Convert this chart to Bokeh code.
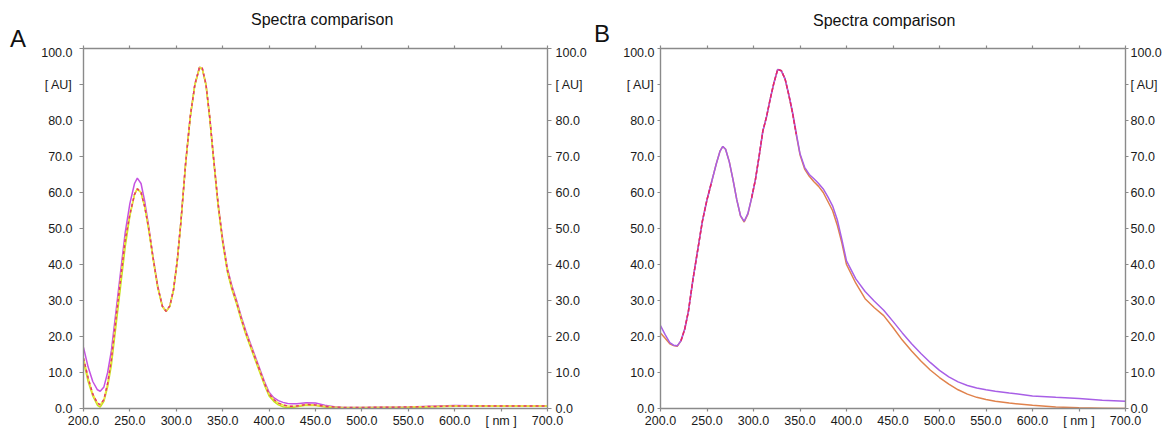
from bokeh.plotting import figure
from bokeh.models import LinearAxis, FixedTicker, Range1d, PrintfTickFormatter, Div
from bokeh.layouts import row, column
from bokeh.embed import file_html
from bokeh.resources import INLINE

# ---------------- data ----------------
x_ticks = [200, 250, 300, 350, 400, 450, 500, 550, 600, 650, 700]
y_ticks = [0, 10, 20, 30, 40, 50, 60, 70, 80, 90, 100]
x_label_overrides = {650: "[ nm ]"}
y_label_overrides = {90: "[ AU]"}
titles = ["Spectra comparison", "Spectra comparison"]
panel_letters = ["A", "B"]

# Panel A
wl_A = [200, 205, 210, 215, 218, 222, 226, 230, 235, 240, 245, 250, 255, 258, 262, 266,
        270, 275, 280, 285, 289, 293, 297, 301, 305, 310, 315, 320, 325, 328, 332, 336,
        340, 345, 350, 355, 360, 365, 370, 375, 380, 385, 390, 395, 400, 405, 410, 415,
        420, 425, 430, 440, 450, 460, 470, 480, 500, 550, 600, 650, 700]
purple_A = [17.0, 11.5, 7.5, 5.2, 4.8, 6.0, 10.0, 16.0, 27.0, 38.0, 49.0, 57.0, 62.5, 64.0, 62.5, 57.5,
            51.0, 42.0, 34.0, 28.5, 27.0, 28.5, 33.0, 41.0, 52.0, 68.0, 81.0, 90.0, 94.8, 94.5, 90.0, 81.0,
            70.0, 57.0, 47.0, 39.0, 34.0, 30.0, 25.5, 21.5, 18.0, 14.5, 11.0, 7.5, 4.5, 3.0, 2.2, 1.7,
            1.4, 1.3, 1.3, 1.6, 1.5, 0.9, 0.5, 0.3, 0.3, 0.4, 0.8, 0.7, 0.7]
lime_A = [13.0, 7.5, 3.5, 0.9, 0.4, 2.0, 6.0, 12.0, 23.0, 34.0, 45.0, 53.5, 59.5, 61.0, 60.0, 56.0,
          50.0, 41.5, 33.5, 28.3, 26.9, 28.3, 32.8, 40.8, 51.8, 67.8, 80.8, 89.8, 94.6, 94.3, 89.8, 80.6,
          69.5, 56.3, 46.0, 38.0, 33.0, 29.0, 24.5, 20.5, 17.0, 13.5, 10.0, 6.5, 3.5, 2.0, 1.0, 0.5,
          0.2, 0.3, 0.5, 0.9, 0.8, 0.4, 0.2, 0.1, 0.1, 0.3, 0.6, 0.6, 0.6]
overlay_A = [14.0, 8.5, 4.0, 1.5, 1.0, 2.5, 7.0, 13.5, 25.0, 36.0, 47.0, 54.0, 59.5, 61.0, 60.0, 56.0,
             50.5, 41.8, 33.8, 28.4, 27.0, 28.5, 33.0, 41.0, 52.0, 68.0, 81.0, 90.0, 94.8, 94.5, 90.0, 81.0,
             70.0, 57.0, 46.5, 38.5, 33.5, 29.5, 25.0, 21.0, 17.5, 14.0, 10.5, 7.0, 4.0, 2.5, 1.5, 1.0,
             0.7, 0.6, 0.7, 1.1, 1.0, 0.6, 0.4, 0.3, 0.3, 0.4, 0.7, 0.7, 0.7]

# Panel B
wl_B = [200, 205, 210, 214, 218, 222, 226, 230, 235, 240, 245, 250, 255, 260, 264, 267, 270,
        274, 278, 282, 286, 290, 294, 298, 302, 306, 310, 314, 318, 322, 326, 330, 334, 338,
        342, 346, 350, 355, 360, 365, 370, 375, 380, 385, 390, 395, 400, 410, 420, 430, 440,
        450, 460, 470, 480, 490, 500, 510, 520, 530, 540, 550, 560, 575, 600, 625, 650, 675, 700]
orange_B = [21.0, 19.5, 18.0, 17.5, 17.3, 18.8, 22.0, 27.0, 36.0, 44.0, 52.0, 58.0, 63.0, 68.0, 71.5, 72.8, 72.0,
            68.5, 63.5, 58.0, 53.5, 51.8, 54.0, 58.5, 63.5, 70.0, 77.0, 81.0, 86.0, 90.5, 94.2, 93.8, 91.5, 87.0,
            82.0, 76.0, 70.5, 66.5, 64.5, 63.0, 61.7, 60.0, 57.5, 55.0, 51.0, 46.0, 40.0, 34.8, 30.5, 28.0, 25.8,
            22.5, 19.0, 16.0, 13.2, 10.7, 8.6, 6.8, 5.2, 4.0, 3.1, 2.5, 2.0, 1.5, 0.9, 0.4, 0.2, 0.1, 0.0]
purple_B = [23.0, 20.5, 18.3, 17.6, 17.4, 18.8, 22.0, 27.0, 36.0, 44.0, 52.0, 58.0, 63.0, 68.0, 71.5, 72.8, 72.0,
            68.5, 63.5, 58.0, 53.6, 52.0, 54.2, 58.5, 63.5, 70.0, 77.0, 81.0, 86.0, 90.5, 94.2, 93.8, 91.5, 87.2,
            82.3, 76.4, 70.8, 67.0, 65.0, 63.8, 62.5, 61.0, 58.8, 56.3, 52.5, 47.0, 41.0, 36.0, 32.5, 29.8, 27.3,
            24.2, 21.0, 18.0, 15.3, 12.8, 10.6, 8.8, 7.4, 6.4, 5.7, 5.2, 4.8, 4.3, 3.5, 3.1, 2.8, 2.3, 2.0]
red_B = [None, None, None, None, None, 18.8, 22.0, 27.0, 36.0, 44.0, 52.0, 58.0, 63.0, None, None, None, None,
         None, None, None, None, None, None, 58.5, 63.5, 70.0, 77.0, 81.0, 86.0, 90.5, 94.2, 93.8, 91.5, 87.1,
         82.1, 76.2, None, None, None, None, None, None, None, None, None, None, None, None, None, None, None,
         None, None, None, None, None, None, None, None, None, None, None, None, None, None, None, None, None, None]
red_B = [float("nan") if v is None else v for v in red_B]

# ---------------- styling ----------------
FONT = "Liberation Sans"
AXIS_COLOR = "#8a8a8a"
LABEL_SIZE = "12.5px"
FIG_H = 386
HEADER_H = 45


def style_axis(ax, ticks, overrides, tick_out, standoff, show_labels=True):
    ax.ticker = FixedTicker(ticks=ticks)
    ax.formatter = PrintfTickFormatter(format="%.1f")
    ax.major_label_overrides = overrides
    ax.axis_line_color = AXIS_COLOR
    ax.axis_line_width = 1.4
    ax.major_tick_line_color = AXIS_COLOR
    ax.major_tick_line_width = 1.2
    ax.major_tick_in = 0
    ax.major_tick_out = tick_out
    ax.minor_tick_line_color = None
    ax.major_label_standoff = standoff
    ax.major_label_text_font = FONT
    ax.major_label_text_font_size = LABEL_SIZE
    ax.major_label_text_color = "#1a1a1a" if show_labels else None


def make_panel(width, border_left, border_right, left_cfg, right_cfg):
    p = figure(width=width, height=FIG_H, x_range=Range1d(200, 700), y_range=Range1d(0, 100),
               output_backend="svg", toolbar_location=None,
               min_border_left=border_left, min_border_right=border_right,
               min_border_top=3, min_border_bottom=23)
    p.xgrid.grid_line_color = None
    p.ygrid.grid_line_color = None
    p.outline_line_color = None
    p.background_fill_color = "white"
    p.border_fill_color = None

    style_axis(p.xaxis[0], x_ticks, x_label_overrides, 3, 2)
    style_axis(p.yaxis[0], y_ticks, y_label_overrides, left_cfg[0], left_cfg[1])
    right = LinearAxis()
    style_axis(right, y_ticks, y_label_overrides, right_cfg[0], right_cfg[1])
    p.add_layout(right, "right")
    top = LinearAxis()
    style_axis(top, x_ticks, {}, 3, 0, show_labels=False)
    top.major_label_text_font_size = "0px"
    p.add_layout(top, "above")
    return p


pA = make_panel(590, 83, 43, (4, 7), (4, 4))
pA.line(wl_A, purple_A, line_color="#c552e2", line_width=1.5)
pA.line(wl_A, lime_A, line_color="#c6e21c", line_width=1.5)
pA.line(wl_A, overlay_A, line_color="#ece640", line_width=1.5)
pA.line(wl_A, overlay_A, line_color="#e6336e", line_width=1.5, line_dash="3 3")

pB = make_panel(574, 70, 39, (3, 3), (3, 2))
pB.line(wl_B, orange_B, line_color="#e0824c", line_width=1.5)
pB.line(wl_B, purple_B, line_color="#a85fe6", line_width=1.5)
pB.line(wl_B, red_B, line_color="#e8226a", line_width=1.5, line_dash="4 2")


def span(text, left, top, size):
    return ('<span style="position:absolute;left:%dpx;top:%dpx;font-size:%dpx;line-height:%dpx;'
            'white-space:nowrap;color:#111;font-family:\'Liberation Sans\',Arial,sans-serif;">%s</span>'
            % (left, top, size, size, text))


header_html = ('<div style="position:relative;width:1164px;height:%dpx;margin:0;padding:0;">' % HEADER_H
               + span(panel_letters[0], 10, 27, 24)
               + span(titles[0], 251, 12, 16)
               + span(panel_letters[1], 594, 22, 24)
               + span(titles[1], 813, 13, 16)
               + '</div>')
header = Div(text=header_html, width=1164, height=HEADER_H, margin=(0, 0, 0, 0))

layout = column(header, row(pA, pB, spacing=0), spacing=0)
open("out.html", "w").write(file_html(layout, INLINE))
